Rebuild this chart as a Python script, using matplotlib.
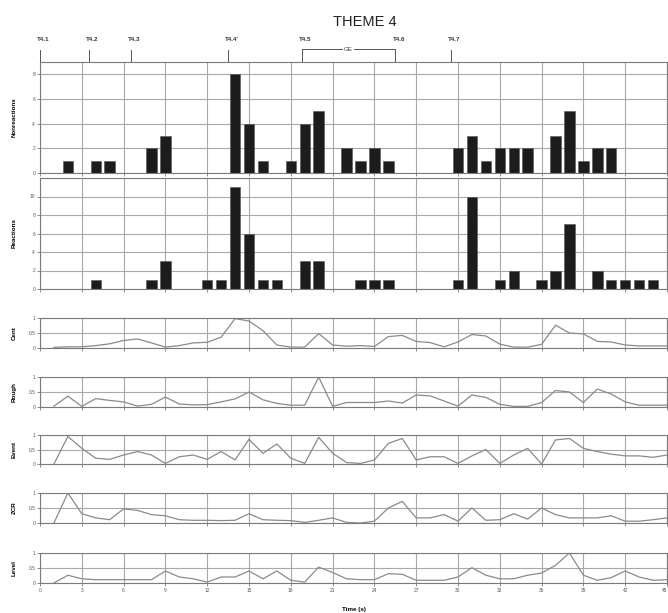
import matplotlib
matplotlib.use("Agg")
import matplotlib.pyplot as plt
import numpy as np

plt.rcParams["font.family"] = ["Liberation Sans", "DejaVu Sans"]

# time in seconds (one bin per second)
t = np.arange(1, 46)

nonreactions = [0, 1, 0, 1, 1, 0, 0, 2, 3, 0,
                0, 0, 0, 8, 4, 1, 0, 1, 4, 5,
                0, 2, 1, 2, 1, 0, 0, 0, 0, 2,
                3, 1, 2, 2, 2, 0, 3, 5, 1, 2,
                2, 0, 0, 0, 0]
reactions = [0, 0, 0, 1, 0, 0, 0, 1, 3, 0,
             0, 1, 1, 11, 6, 1, 1, 0, 3, 3,
             0, 0, 1, 1, 1, 0, 0, 0, 0, 1,
             10, 0, 1, 2, 0, 1, 2, 7, 0, 2,
             1, 1, 1, 1, 0]

cent = [0.02, 0.04, 0.04, 0.08, 0.14, 0.25, 0.30, 0.17, 0.03, 0.08,
        0.17, 0.19, 0.36, 0.98, 0.90, 0.58, 0.10, 0.03, 0.03, 0.48,
        0.10, 0.06, 0.08, 0.05, 0.38, 0.42, 0.22, 0.18, 0.04, 0.20,
        0.45, 0.40, 0.13, 0.03, 0.03, 0.12, 0.76, 0.50, 0.47, 0.22,
        0.20, 0.10, 0.07, 0.07, 0.07]
rough = [0.03, 0.36, 0.02, 0.28, 0.22, 0.17, 0.03, 0.09, 0.33, 0.10,
         0.07, 0.08, 0.17, 0.27, 0.50, 0.24, 0.12, 0.06, 0.06, 1.00,
         0.02, 0.15, 0.15, 0.15, 0.20, 0.13, 0.40, 0.37, 0.20, 0.03,
         0.40, 0.32, 0.09, 0.02, 0.02, 0.15, 0.55, 0.50, 0.15, 0.60,
         0.43, 0.17, 0.06, 0.06, 0.06]
event = [0.00, 0.95, 0.54, 0.20, 0.16, 0.31, 0.43, 0.31, 0.02, 0.25,
         0.31, 0.16, 0.43, 0.14, 0.85, 0.37, 0.69, 0.20, 0.02, 0.92,
         0.37, 0.05, 0.02, 0.14, 0.71, 0.88, 0.14, 0.25, 0.25, 0.02,
         0.28, 0.50, 0.02, 0.31, 0.54, 0.00, 0.83, 0.88, 0.54, 0.43,
         0.34, 0.28, 0.28, 0.23, 0.31]
zcr = [0.00, 1.00, 0.31, 0.17, 0.11, 0.47, 0.42, 0.28, 0.24, 0.11,
       0.09, 0.09, 0.08, 0.09, 0.31, 0.11, 0.09, 0.08, 0.02, 0.09,
       0.17, 0.02, 0.00, 0.06, 0.50, 0.72, 0.17, 0.17, 0.28, 0.06,
       0.50, 0.09, 0.11, 0.31, 0.13, 0.50, 0.28, 0.17, 0.17, 0.17,
       0.24, 0.06, 0.06, 0.11, 0.17]
level = [0.00, 0.26, 0.14, 0.11, 0.11, 0.11, 0.11, 0.11, 0.40, 0.20,
         0.14, 0.03, 0.20, 0.20, 0.40, 0.14, 0.40, 0.09, 0.03, 0.53,
         0.35, 0.14, 0.11, 0.11, 0.31, 0.29, 0.09, 0.09, 0.09, 0.20,
         0.51, 0.26, 0.14, 0.14, 0.26, 0.33, 0.59, 1.00, 0.26, 0.09,
         0.18, 0.40, 0.20, 0.09, 0.11]

# theme event markers (s)
marker_t = [0, 3.5, 6.5, 13.5, 18.8, 25.5, 29.5]
marker_lab = ["T4.1", "T4.2", "T4.3", "T4.4'", "T4.5", "T4.6", "T4.7"]

xticks = np.arange(0, 46, 3)

W, H = 668, 613
fig = plt.figure(figsize=(W / 100, H / 100), dpi=100)

GRID = "#a8a8a8"
SPINE = "#7a7a7a"


def add_ax(top, bottom):
    return fig.add_axes([40 / W, 1 - bottom / H, 627 / W, (bottom - top) / H])


def style(ax, ylabel, yticks, ylim, bottom=False):
    ax.set_xlim(0, 45)
    ax.set_ylim(*ylim)
    ax.set_xticks(xticks)
    ax.set_yticks(yticks)
    ax.set_yticklabels([f"{v:g}" for v in yticks], fontsize=3.5, color="#555555")
    if bottom:
        ax.set_xticklabels([str(v) for v in xticks], fontsize=3.5, color="#555555")
        # keep the last label inside the figure
        ax.get_xticklabels()[-1].set_horizontalalignment("right")
    else:
        ax.set_xticklabels([])
    ax.tick_params(length=2, width=0.6, color=SPINE, pad=1.5)
    ax.grid(True, color=GRID, lw=0.8)
    ax.set_axisbelow(True)
    for s in ax.spines.values():
        s.set_color(SPINE)
        s.set_linewidth(0.8)
    ax.set_ylabel(ylabel, fontsize=4.5, fontweight="bold", labelpad=8)
    ax.yaxis.set_label_coords(-0.037, 0.5)


ax1 = add_ax(62, 173)
ax1.bar(t, nonreactions, width=0.75, color="#1c1c1c", edgecolor="#555555", lw=0.4)
style(ax1, "Nonreactions", [0, 2, 4, 6, 8], (0, 9))

ax2 = add_ax(178, 289)
ax2.bar(t, reactions, width=0.75, color="#1c1c1c", edgecolor="#555555", lw=0.4)
style(ax2, "Reactions", [0, 2, 4, 6, 8, 10], (0, 12))

panels = [(318, 348, cent, "Cent"), (377, 407, rough, "Rough"),
          (435, 464, event, "Event"), (493, 523, zcr, "ZCR"),
          (553, 583, level, "Level")]
for i, (top, bot, vals, name) in enumerate(panels):
    ax = add_ax(top, bot)
    ax.plot(t, vals, color="#8a8a8a", lw=0.9)
    style(ax, name, [0, 0.5, 1], (0, 1), bottom=(i == len(panels) - 1))
    if i == len(panels) - 1:
        ax.set_xlabel("Time (s)", fontsize=4.5, fontweight="bold", labelpad=10)

# event markers above top panel
tr = ax1.get_xaxis_transform()
for x, lab in zip(marker_t, marker_lab):
    hi = 1.117 if lab in ("T4.5", "T4.6") else 1.108
    ax1.plot([x, x], [1, hi], color="#555555", lw=0.7, transform=tr, clip_on=False)
    ax1.text(x + 0.25, 1.2, lab, transform=tr, ha="center", va="center",
             fontsize=4.5, fontweight="bold", color="#333333")

g0, g1 = marker_t[4], marker_t[5]
ax1.plot([g0, g1], [1.117, 1.117], color="#555555", lw=0.7, transform=tr, clip_on=False)
ax1.text((g0 + g1) / 2, 1.117, "GE", transform=tr, ha="center", va="center",
         fontsize=4.5, color="#444444",
         bbox=dict(facecolor="white", edgecolor="none", pad=0.8))

fig.text(365 / W, 1 - 22 / H, "THEME 4", ha="center", va="center",
         fontsize=10.5, color="#222222")

fig.savefig("out.png", dpi=100, facecolor="white")
